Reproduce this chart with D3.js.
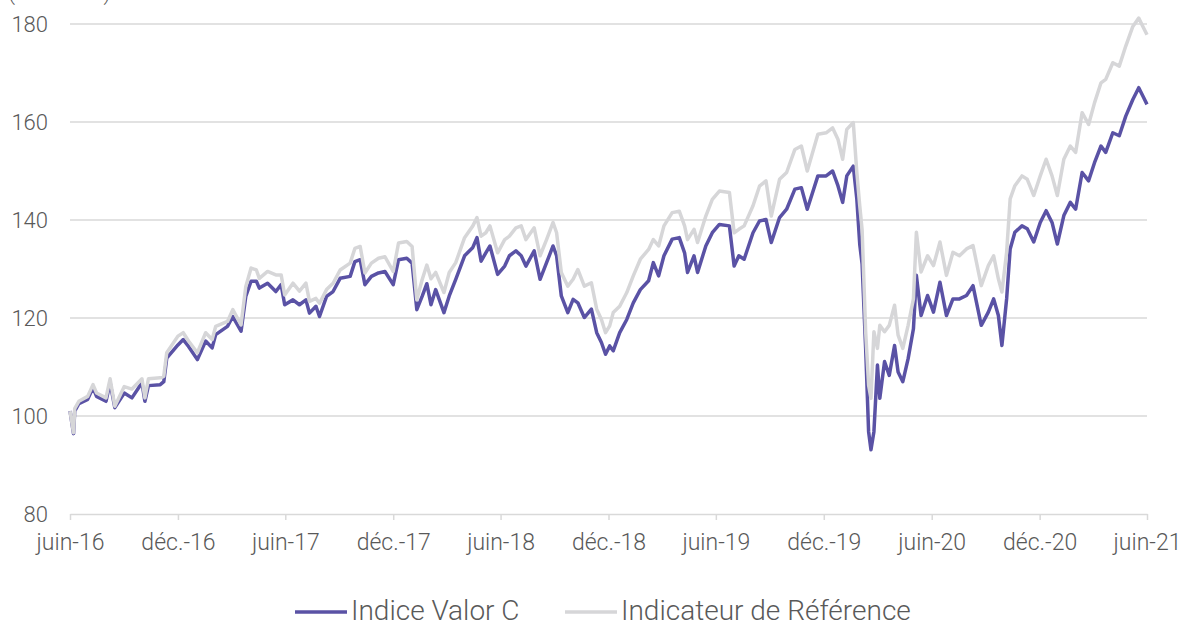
<!DOCTYPE html>
<html>
<head>
<meta charset="utf-8">
<script src="https://cdn.jsdelivr.net/npm/d3@7"></script>
<style>
  body { margin: 0; background: #fff; }
  text { font-family: Roboto, "Noto Sans", sans-serif; font-weight: 300; fill: #595959; }
</style>
</head>
<body>
<svg id="svg" width="1185" height="626"></svg>
<script>
const dates = [
  '2016-06-01','2016-06-07','2016-06-09','2016-06-16','2016-07-01','2016-07-10','2016-07-16','2016-08-01',
  '2016-08-08','2016-08-16','2016-09-01','2016-09-14','2016-10-01','2016-10-06','2016-10-12','2016-11-01',
  '2016-11-07','2016-11-12','2016-12-01','2016-12-10','2016-12-19','2017-01-03','2017-01-17','2017-01-28',
  '2017-02-03','2017-02-23','2017-03-04','2017-03-18','2017-03-26','2017-04-04','2017-04-13','2017-04-18',
  '2017-05-02','2017-05-16','2017-05-25','2017-05-31','2017-06-14','2017-06-25','2017-07-06','2017-07-12',
  '2017-07-23','2017-07-29','2017-08-10','2017-08-21','2017-09-02','2017-09-19','2017-09-27','2017-10-06',
  '2017-10-14','2017-10-25','2017-11-06','2017-11-17','2017-12-01','2017-12-10','2017-12-24','2018-01-02',
  '2018-01-10','2018-01-19','2018-01-27','2018-02-03','2018-02-11','2018-02-25','2018-03-06','2018-03-17',
  '2018-04-01','2018-04-15','2018-04-22','2018-04-29','2018-05-07','2018-05-14','2018-05-27','2018-06-08',
  '2018-06-16','2018-06-27','2018-07-06','2018-07-14','2018-07-28','2018-08-07','2018-08-18','2018-08-29',
  '2018-09-04','2018-09-12','2018-09-23','2018-10-02','2018-10-10','2018-10-21','2018-11-02','2018-11-11',
  '2018-11-19','2018-11-26','2018-12-03','2018-12-09','2018-12-20','2019-01-01','2019-01-12','2019-01-24',
  '2019-02-07','2019-02-15','2019-02-24','2019-03-05','2019-03-19','2019-03-31','2019-04-09','2019-04-14',
  '2019-04-25','2019-05-01','2019-05-15','2019-05-26','2019-06-07','2019-06-24','2019-07-02','2019-07-10',
  '2019-07-19','2019-08-03','2019-08-14','2019-08-25','2019-09-03','2019-09-17','2019-09-29','2019-10-13',
  '2019-10-24','2019-11-03','2019-11-21','2019-12-05','2019-12-16','2019-12-25','2020-01-02','2020-01-09',
  '2020-01-20','2020-01-26','2020-01-31','2020-02-04','2020-02-10','2020-02-15','2020-02-19','2020-02-24',
  '2020-03-01','2020-03-05','2020-03-13','2020-03-21','2020-03-30','2020-04-05','2020-04-13','2020-04-22',
  '2020-05-01','2020-05-06','2020-05-14','2020-05-25','2020-06-04','2020-06-15','2020-06-26','2020-07-07',
  '2020-07-18','2020-07-30','2020-08-10','2020-08-24','2020-09-05','2020-09-14','2020-09-22','2020-09-28',
  '2020-10-06','2020-10-12','2020-10-20','2020-11-01','2020-11-10','2020-11-21','2020-12-02','2020-12-12',
  '2020-12-22','2020-12-31','2021-01-11','2021-01-22','2021-01-31','2021-02-11','2021-02-22','2021-03-04',
  '2021-03-15','2021-03-23','2021-04-04','2021-04-15','2021-04-26','2021-05-08','2021-05-18','2021-05-25',
  '2021-06-01'
]

const valorC = [
  101, 96.4, 101, 102.5, 103.4, 105.8, 104, 103,
  106.8, 101.7, 104.7, 103.7, 106.8, 103, 106.2, 106.4,
  107, 111.8, 114.5, 115.6, 114.2, 111.5, 115.3, 113.9,
  116.6, 118.3, 120.3, 117.3, 124.4, 127.5, 127.5, 126.1,
  127.1, 125.4, 126.8, 122.7, 123.7, 122.7, 123.7, 121,
  122.4, 120.3, 124.4, 125.4, 128.1, 128.5, 131.5, 131.9,
  126.8, 128.5, 129.2, 129.5, 126.8, 131.9, 132.2, 131.2,
  121.7, 124.4, 127, 122.7, 125.8, 121.1, 124.5, 127.9,
  132.7, 134.4, 136.4, 131.6, 133.3, 134.7, 128.9, 130.6,
  132.7, 133.7, 132.7, 130.6, 133.7, 127.9, 131.3, 134.7,
  132.7, 124.5, 121.1, 123.8, 123.1, 120.1, 121.8, 117,
  115, 112.6, 114.3, 113.3, 117, 119.7, 123.1, 125.8,
  127.6, 131.3, 128.6, 132.7, 136.1, 136.4, 133.3, 129.3,
  132.7, 129.3, 134.7, 137.4, 139.1, 138.8, 130.6, 132.7,
  132, 137.4, 139.8, 140.1, 135.4, 140.5, 142.2, 146.3,
  146.6, 142.2, 149, 149, 150, 147, 143.6, 149,
  151, 144.3, 135, 131, 113.8, 96.8, 93.1, 96.8,
  110.4, 103.6, 111.1, 108.3, 114.4, 109, 107, 111.7,
  117.8, 128.7, 120.5, 124.6, 121.2, 127.3, 120.5, 123.9,
  123.9, 124.6, 126.6, 118.5, 121.2, 123.9, 120.5, 114.4,
  123.9, 134.1, 137.5, 138.8, 138.2, 135.5, 139.5, 141.9,
  139.5, 135.1, 140.9, 143.6, 142.2, 149.7, 148, 151.7,
  155.1, 153.8, 157.8, 157.2, 161.2, 164.6, 167, 165.3,
  163.6
]

const reference = [
  101, 96.6, 101.5, 103, 104, 106.4, 104.7, 103.7,
  107.6, 102, 106, 105.5, 107.6, 103.7, 107.6, 107.8,
  108.1, 112.9, 116.3, 117, 115.3, 112.9, 117, 115.6,
  118.3, 119.3, 121.7, 118.6, 126.4, 130.2, 129.8, 128.1,
  129.5, 128.8, 128.8, 124.7, 127.1, 125.5, 127.1, 123.4,
  124, 123, 125.8, 127.1, 129.8, 131.2, 134.2, 134.6,
  129.2, 131.2, 132.2, 132.5, 129.5, 135.3, 135.6, 134.6,
  123.7, 127.8, 130.8, 128, 129.3, 125.2, 129.3, 131.3,
  136.4, 138.8, 140.5, 136.7, 137.4, 138.8, 133.3, 136,
  136.7, 138.4, 138.8, 136, 138.4, 132.7, 136, 139.5,
  137.4, 129.3, 126.5, 127.9, 129.9, 126.5, 127.2, 121.8,
  119.7, 117, 118.4, 121.1, 122.4, 125.2, 128.6, 132,
  134, 136, 134.7, 138.8, 141.5, 141.8, 138.8, 136,
  138.1, 135.4, 140.8, 144.2, 145.9, 145.6, 137.4, 138.1,
  138.8, 142.9, 146.9, 148, 140.8, 148.3, 149.7, 154.4,
  155.1, 150, 157.5, 157.8, 158.8, 156.5, 152.4, 158.5,
  159.9, 149.7, 142.9, 138, 117.2, 106.3, 103.6, 117.2,
  113.8, 118.5, 117.2, 118.5, 122.6, 116.5, 113.8, 118.5,
  123.9, 137.5, 129.4, 132.7, 130.7, 135.5, 128.7, 133.4,
  132.7, 134.1, 134.8, 126.6, 130.7, 132.7, 128, 125.3,
  133.4, 144.3, 147, 149, 148.3, 145, 149, 152.4,
  149, 145, 152.4, 155.1, 153.8, 161.9, 159.5, 163.9,
  168, 168.7, 172.1, 171.4, 175.5, 179.5, 181.2, 179.5,
  177.8
]

const yTicks = [80, 100, 120, 140, 160, 180]
const xTicks = ['2016-06-01','2016-12-01','2017-06-01','2017-12-01','2018-06-01','2018-12-01',
  '2019-06-01','2019-12-01','2020-06-01','2020-12-01','2021-06-01']
const xTickLabels = ['juin-16','déc.-16','juin-17','déc.-17','juin-18','déc.-18',
  'juin-19','déc.-19','juin-20','déc.-20','juin-21']
const seriesNames = ['Indice Valor C', 'Indicateur de Référence']
const seriesColors = ['#5a52a5', '#d6d6d8']

let svg = d3.select('#svg')
let parse = d3.timeParse('%Y-%m-%d')

let plotLeft = 70
let plotRight = 1147
let plotTop = 24
let plotBottom = 514

let x = d3.scaleTime()
  .domain([parse('2016-06-01'), parse('2021-06-01')])
  .range([plotLeft, plotRight])

let y = d3.scaleLinear()
  .domain([80, 180])
  .range([plotBottom, plotTop])

// horizontal grid
svg.append('g')
  .selectAll('line')
  .data(yTicks.filter(d => d > 80))
  .enter()
  .append('line')
  .attr('x1', plotLeft)
  .attr('x2', plotRight)
  .attr('y1', d => y(d))
  .attr('y2', d => y(d))
  .attr('stroke', '#d9d9d9')
  .attr('stroke-width', 1.5)

// y labels
svg.append('g')
  .selectAll('text')
  .data(yTicks)
  .enter()
  .append('text')
  .attr('x', 48)
  .attr('y', d => y(d) + 8)
  .attr('text-anchor', 'end')
  .style('font-size', '22px')
  .text(d => d)

// unit label, cut by the top edge like in the original
svg.append('text')
  .attr('x', 8)
  .attr('y', 0)
  .style('font-size', '22px')
  .text('(base 100)')

// x axis
let xAxis = d3.axisBottom(x)
  .tickValues(xTicks.map(parse))
  .tickFormat((d, i) => xTickLabels[i])
  .tickSizeInner(6)
  .tickSizeOuter(0)
  .tickPadding(14)

let gx = svg.append('g')
  .attr('transform', 'translate(0,' + plotBottom + ')')
  .call(xAxis)

gx.select('.domain').attr('stroke', '#d9d9d9').attr('stroke-width', 1.5)
gx.selectAll('.tick line').attr('stroke', '#d9d9d9').attr('stroke-width', 1.5)
gx.selectAll('.tick text')
  .style('font-size', '23px')
  .style('font-family', 'Roboto, sans-serif')
  .attr('fill', '#595959')

// lines
let series = [valorC, reference]
let line = d3.line()
  .x((d, i) => x(parse(dates[i])))
  .y(d => y(d))

series.forEach((s, k) => {
  svg.append('path')
    .datum(s)
    .attr('d', line)
    .attr('fill', 'none')
    .attr('stroke', seriesColors[k])
    .attr('stroke-width', 3.5)
    .attr('stroke-linejoin', 'round')
})

// legend
let legendX = [295, 565]
let legend = svg.append('g')
seriesNames.forEach((name, k) => {
  legend.append('line')
    .attr('x1', legendX[k])
    .attr('x2', legendX[k] + 52)
    .attr('y1', 612)
    .attr('y2', 612)
    .attr('stroke', seriesColors[k])
    .attr('stroke-width', 3.5)
  legend.append('text')
    .attr('x', legendX[k] + 56)
    .attr('y', 620)
    .style('font-size', '28px')
    .text(name)
})
</script>
</body>
</html>
